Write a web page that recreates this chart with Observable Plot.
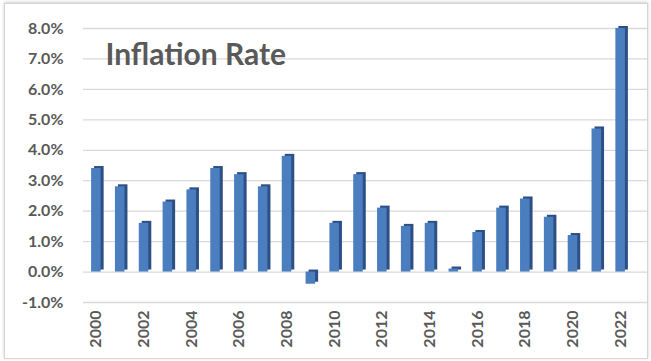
<!DOCTYPE html>
<html><head><meta charset="utf-8">
<script src="https://cdn.jsdelivr.net/npm/d3@7"></script>
<script src="https://cdn.jsdelivr.net/npm/@observablehq/plot@0.6"></script>
<style>
body{margin:0;background:#fff;}
#wrap{position:relative;width:651px;height:361px;}
#border{position:absolute;left:4px;top:3px;width:642px;height:354px;border:1px solid #d4d4d4;box-shadow:0 -1px 3px #cfcfcf;pointer-events:none;}
</style></head>
<body><div id="wrap"><div id="border"></div></div>
<script>
const years = [2000,2001,2002,2003,2004,2005,2006,2007,2008,2009,2010,2011,2012,2013,2014,2015,2016,2017,2018,2019,2020,2021,2022];
const rates = [3.4,2.8,1.6,2.3,2.7,3.4,3.2,2.8,3.8,-0.4,1.6,3.2,2.1,1.5,1.6,0.1,1.3,2.1,2.4,1.8,1.2,4.7,8.0];
const yTicks = [-1,0,1,2,3,4,5,6,7,8];
const title = "Inflation Rate";
const data = years.map((y,i)=>({year:y, rate:rates[i]}));
const font = "Lato, 'Open Sans', sans-serif";
const chart = Plot.plot({
  width:651, height:361,
  marginLeft:83, marginRight:11, marginTop:28, marginBottom:59,
  style:{fontFamily:font, fontSize:"16px", fontWeight:"bold", color:"#595959", background:"transparent"},
  x:{type:"band", domain:years, paddingInner:0.6, paddingOuter:0.34, round:false, insetRight:7, label:null,
     tickRotate:-90, tickSize:0, tickPadding:8, tickFormat:d=> d%2===0 ? String(d) : ""},
  y:{domain:[-1,8], ticks:yTicks, tickFormat:d=>d.toFixed(1)+"%", label:null, tickSize:0, tickPadding:20},
  marks:[
    Plot.ruleY(yTicks,{stroke:"#d9d9d9", strokeWidth:1.3, insetRight:-7}),
    Plot.barY(data,{x:"year", y:"rate", fill:"#2c4f86", dx:3, dy:-2}),
    Plot.barY(data,{x:"year", y:"rate", fill:"#4a7ebf"}),
    Plot.text([title],{frameAnchor:"top-left", dx:22, dy:27, text:d=>d, fontSize:30, fontWeight:"bold", fill:"#595959", textAnchor:"start", lineAnchor:"middle"})
  ]
});
document.getElementById("wrap").prepend(chart);
</script></body></html>
